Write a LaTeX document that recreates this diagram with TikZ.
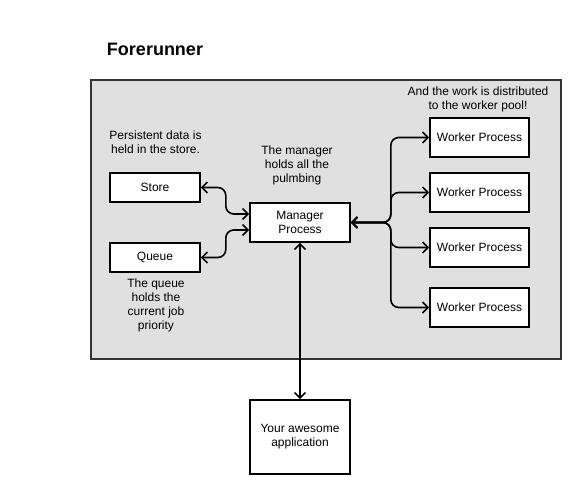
\documentclass[tikz,border=0pt]{standalone}
\usepackage{fontspec}
\setmainfont{Liberation Sans}
\usetikzlibrary{positioning,arrows.meta,backgrounds}
\definecolor{fundal}{RGB}{224,224,224}
\definecolor{margine}{RGB}{51,51,51}
\tikzset{
  cutie/.style    = {draw, line width=1.6pt, fill=white, align=center, inner sep=2pt,
                     font=\fontsize{12}{14}\selectfont},
  notita/.style   = {align=center, inner sep=0pt, font=\fontsize{12}{14}\selectfont},
  legatura/.style = {{Straight Barb[length=5.5pt,width=11pt]}-{Straight Barb[length=5.5pt,width=11pt]},
                     line width=1.6pt, rounded corners=8pt},
  bazin/.style    = {draw=margine, fill=fundal, line width=1.6pt}
}

\begin{document}
\begin{tikzpicture}[x=1pt, y=-1pt]
        \useasboundingbox[fill=white] (0,0) rectangle (581,495);

        \node[font=\fontsize{18}{20}\selectfont\bfseries] (titlu) at (155,49) {Forerunner};

        \draw[bazin] (91,80) rectangle (561,359);

        \node[cutie, minimum width=90pt, minimum height=29pt] (st) at (155,187.5) {Store};
        \node[cutie, minimum width=90pt, minimum height=29pt] (q) at (155,257.5) {Queue};
        \node[cutie, minimum width=100pt, minimum height=39pt] (mp) at (300,222.5) {Manager\\Process};
        \node[cutie, minimum width=99pt, minimum height=39pt] (w1) at (479.5,137.5) {Worker Process};
        \node[cutie, minimum width=99pt, minimum height=39pt] (w2) at (479.5,192.5) {Worker Process};
        \node[cutie, minimum width=99pt, minimum height=39pt] (w3) at (479.5,247.5) {Worker Process};
        \node[cutie, minimum width=99pt, minimum height=39pt] (w4) at (479.5,307.5) {Worker Process};
        \node[cutie, minimum width=100pt, minimum height=74pt] (app) at (300,437) {Your awesome\\application};

        \node[notita] (notast) at (155.5,142.5) {Persistent data is\\held in the store.};
        \node[notita] (notamp) at (297,165) {The manager\\holds all the\\pulmbing};
        \node[notita] (notaq) at (156,305) {The queue\\holds the\\current job\\priority};
        \node[notita] (notaw) at (478,99) {And the work is distributed\\to the worker pool!};

        \draw[legatura] (st.east) -- ++(25,0) |- ([yshift=8.5pt]mp.west);
        \draw[legatura] (q.east) -- ++(25,0) |- ([yshift=-7.5pt]mp.west);
        \foreach \w in {w1,w2,w3,w4}
            \draw[legatura] (mp.east) -- ++(40,0) |- (\w.west);
        \draw[legatura] (mp.south) -- (app.north);
    \end{tikzpicture}
\end{document}
